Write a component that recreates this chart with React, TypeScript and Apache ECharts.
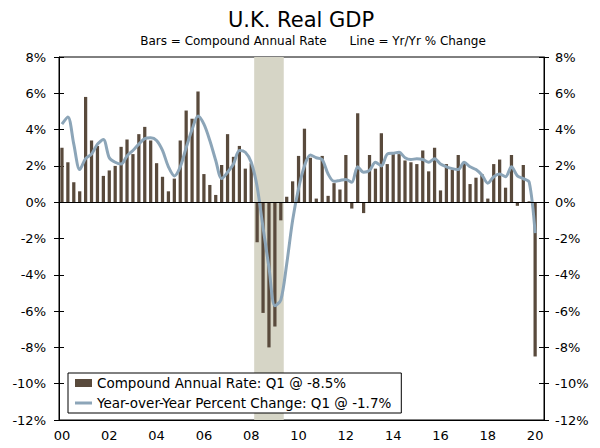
import React, { useEffect, useRef } from "react";
import * as echarts from "echarts";

const years = [2000, 2001, 2002, 2003, 2004, 2005, 2006, 2007, 2008, 2009, 2010, 2011, 2012, 2013, 2014, 2015, 2016, 2017, 2018, 2019, 2020];
const quarterNames = ["Q1", "Q2", "Q3", "Q4"];
const categories: string[] = [];
years.forEach((y) => quarterNames.forEach((q) => { if (y < 2020 || q === "Q1" || q === "Q2") categories.push(`${y}${q}`); }));

// Compound annual rate (bars), 2000Q1 .. 2020Q1, plus empty 2020Q2 slot
const compoundAnnualRate: (number | null)[] = [
  3.0, 2.2, 1.1, 0.6,
  5.8, 3.4, 3.1, 1.45,
  1.75, 2.0, 3.05, 3.45,
  2.65, 3.75, 4.15, 3.4,
  2.15, 1.4, 0.6, 1.3,
  3.4, 5.05, 4.6, 6.1,
  1.55, 0.95, 0.4, 2.05,
  3.75, 2.5, 3.1, 1.85,
  2.15, -2.2, -6.1, -8.0,
  -6.85, -1.0, 0.3, 1.15,
  2.55, 4.05, 2.45, 0.2,
  2.55, 0.35, 1.05, 0.7,
  2.6, -0.35, 4.9, -0.6,
  2.6, 1.85, 3.8, 2.1,
  2.65, 2.65, 2.3, 2.2,
  2.1, 2.85, 1.7, 3.0,
  0.65, 2.1, 1.8, 2.6,
  2.2, 1.0, 1.35, 1.55,
  0.2, 2.1, 2.35, 0.8,
  2.6, -0.2, 2.05, 0.05,
  -8.5, null,
];

// Year-over-year percent change (line)
const yoyChange: (number | null)[] = [
  4.3, 4.7, 3.2, 1.8,
  2.4, 2.65, 3.2, 3.45,
  2.45, 2.2, 2.1, 2.55,
  2.85, 3.2, 3.5, 3.55,
  3.4, 2.85, 1.95, 1.45,
  1.95, 3.0, 4.0, 4.75,
  4.3, 3.4, 2.3, 1.3,
  1.65, 2.1, 2.85, 2.75,
  2.2, 0.85, -1.4, -3.6,
  -5.7, -5.4, -3.4, -1.0,
  0.75, 2.0, 2.6, 2.45,
  2.35, 1.55, 1.15, 1.2,
  1.25, 1.1, 1.95, 1.65,
  1.75, 2.2, 2.0, 2.65,
  2.7, 2.75, 2.45, 2.35,
  2.4, 2.35, 2.2, 2.4,
  2.1, 1.95, 1.85, 1.8,
  2.2, 1.95, 1.8, 1.5,
  1.05, 1.4, 1.55, 1.4,
  1.95, 1.45, 1.3, 1.1,
  -1.7, null,
];

const recession = [["2008Q2", "2009Q2"]];
const yMin = -12;
const yMax = 8;
const yStep = 2;

const BAR_COLOR = "#594a3c";
const LINE_COLOR = "#8ca5b8";
const SHADE_COLOR = "#d6d5c6";
const FONT = "DejaVu Sans";

export default function App() {
  const ref = useRef<HTMLDivElement>(null);
  useEffect(() => {
    if (!ref.current) return;
    const chart = echarts.init(ref.current, undefined, { renderer: "svg" });
    const barName = `Compound Annual Rate: Q1 @ ${compoundAnnualRate[80]}%`;
    const lineName = `Year-over-Year Percent Change: Q1 @ ${yoyChange[80]}%`;
    const tickEvery = (i: number) => i % 8 === 0;
    const yBase = {
      type: "value",
      min: yMin,
      max: yMax,
      interval: yStep,
      splitLine: { show: false },
    };
    chart.setOption({
      animation: false,
      textStyle: { fontFamily: FONT, color: "#000" },
      grid: { left: 59, right: 56, top: 57, bottom: 28, show: true, borderColor: "#000", borderWidth: 1, backgroundColor: "transparent" },
      graphic: [
        { type: "text", x: 301, y: 20, style: { text: "U.K. Real GDP", font: `21px '${FONT}'`, fill: "#000", textAlign: "center", textVerticalAlign: "middle" } },
        { type: "text", x: 313, y: 41, style: { text: "Bars = Compound Annual Rate      Line = Yr/Yr % Change", font: `12px '${FONT}'`, fill: "#000", textAlign: "center", textVerticalAlign: "middle" } },
      ],
      legend: {
        orient: "vertical",
        left: 68,
        top: 373,
        padding: [0, 10, 0, 7],
        itemGap: 0,
        itemWidth: 17,
        itemHeight: 8,
        backgroundColor: "#fff",
        borderColor: "#000",
        borderWidth: 1,
        textStyle: { fontFamily: FONT, fontSize: 13.5, lineHeight: 20, color: "#000" },
        data: [
          { name: barName, icon: "rect" },
          { name: lineName, icon: "path://M0,0L17,0L17,3L0,3Z", itemStyle: { color: LINE_COLOR } },
        ],
        z: 10,
      },
      xAxis: [
        {
          type: "category",
          data: categories,
          position: "bottom",
          boundaryGap: true,
          axisLine: { onZero: false, lineStyle: { color: "#000", width: 1 } },
          axisTick: { interval: tickEvery, length: 5, lineStyle: { color: "#000" } },
          axisLabel: { interval: tickEvery, formatter: (v: string) => v.slice(2, 4), fontSize: 13, color: "#000", margin: 9, fontFamily: FONT },
          splitLine: { show: false },
        },
        {
          type: "category",
          data: categories,
          position: "bottom",
          boundaryGap: true,
          axisLine: { show: false, onZero: false },
          axisTick: { interval: tickEvery, inside: true, length: 4, lineStyle: { color: "#000" } },
          axisLabel: { show: false },
          splitLine: { show: false },
        },
      ],
      yAxis: [
        {
          ...yBase,
          position: "left",
          axisLine: { show: true, lineStyle: { color: "#000" } },
          axisTick: { show: true, length: 5, lineStyle: { color: "#000" } },
          axisLabel: { formatter: "{value}%", fontSize: 13, color: "#000", margin: 13, fontFamily: FONT },
        },
        {
          ...yBase,
          position: "left",
          axisLine: { show: false },
          axisTick: { show: true, inside: true, length: 5, lineStyle: { color: "#000" } },
          axisLabel: { show: false },
        },
        {
          ...yBase,
          position: "right",
          axisLine: { show: true, lineStyle: { color: "#000" } },
          axisTick: { show: true, length: 5, lineStyle: { color: "#000" } },
          axisLabel: { formatter: "{value}%", fontSize: 13, color: "#000", margin: 11, fontFamily: FONT },
        },
        {
          ...yBase,
          position: "right",
          axisLine: { show: false },
          axisTick: { show: true, inside: true, length: 5, lineStyle: { color: "#000" } },
          axisLabel: { show: false },
        },
      ],
      series: [
        {
          type: "custom",
          name: "recession",
          xAxisIndex: 0,
          yAxisIndex: 0,
          z: 0,
          silent: true,
          encode: { x: [0, 1], y: 2 },
          data: recession.map((r) => [r[0], r[1], 0]),
          renderItem: (params: any, api: any) => {
            const s = api.coord([api.value(0), 0]);
            const e = api.coord([api.value(1), 0]);
            const w = api.size([1, 0])[0];
            const cs = params.coordSys;
            return {
              type: "rect",
              shape: { x: s[0] - w / 2, y: cs.y, width: e[0] - s[0] + w, height: cs.height },
              style: { fill: SHADE_COLOR },
            };
          },
        },
        {
          type: "bar",
          name: barName,
          data: compoundAnnualRate,
          xAxisIndex: 0,
          yAxisIndex: 0,
          barWidth: "55%",
          itemStyle: { color: BAR_COLOR },
          z: 2,
          markLine: {
            silent: true,
            symbol: ["none", "none"],
            label: { show: false },
            lineStyle: { color: "#000", width: 1, type: "solid" },
            data: [{ yAxis: 0 }],
          },
        },
        {
          type: "line",
          name: lineName,
          data: yoyChange,
          xAxisIndex: 0,
          yAxisIndex: 0,
          symbol: "none",
          smooth: 0.3,
          lineStyle: { color: LINE_COLOR, width: 3 },
          itemStyle: { color: LINE_COLOR },
          z: 3,
        },
      ],
    });
    return () => chart.dispose();
  }, []);
  return <div ref={ref} style={{ position: "absolute", left: 0, top: 0, width: 600, height: 448 }} />;
}
